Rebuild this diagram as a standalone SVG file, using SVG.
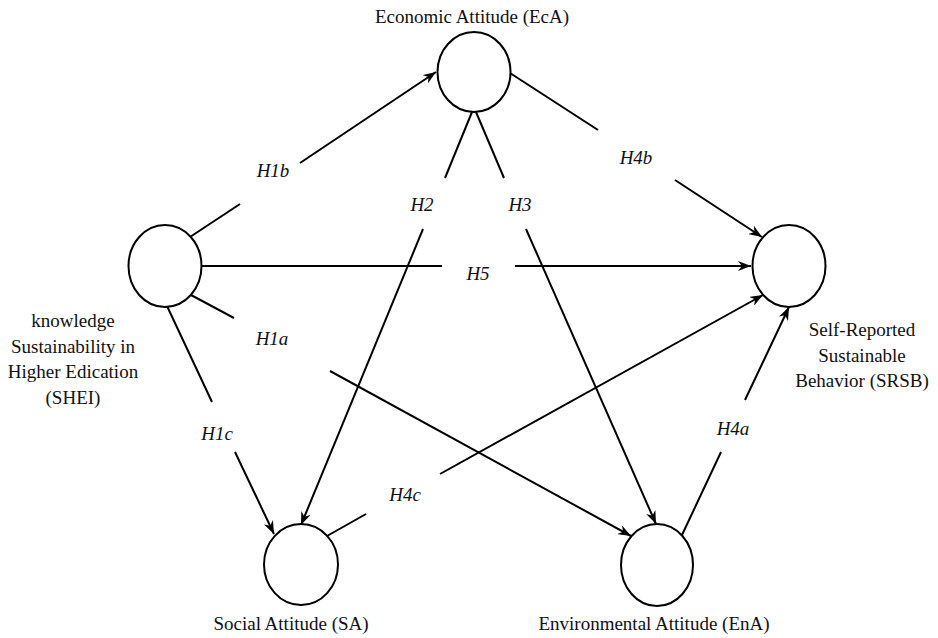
<svg xmlns="http://www.w3.org/2000/svg" width="938" height="638" viewBox="0 0 938 638">
<style>
.node{fill:#fff;stroke:#000;stroke-width:2}
.t{font-family:"Liberation Serif","Times New Roman",serif;font-size:19px;fill:#111;text-anchor:middle}
.h{font-family:"Liberation Serif","Times New Roman",serif;font-size:19px;font-style:italic;fill:#111;text-anchor:middle}
.c line{stroke:#000;stroke-width:2}
</style>
<defs>
<marker id="arr" markerUnits="userSpaceOnUse" markerWidth="14" markerHeight="10" refX="13" refY="5" orient="auto">
<path d="M0,0 L13,5 L0,10 L4,5 z" fill="#000"/>
</marker>
</defs>
<rect width="938" height="638" fill="#fff"/>
<g class="c" id="connectors">
<!-- H1b -->
<line x1="190" y1="237" x2="240" y2="204"/>
<line x1="300" y1="163" x2="436" y2="72" marker-end="url(#arr)"/>
<!-- H5 -->
<line x1="202" y1="266" x2="442" y2="266"/>
<line x1="515" y1="266" x2="751" y2="266" marker-end="url(#arr)"/>
<!-- H1a -->
<line x1="191" y1="295" x2="234" y2="318"/>
<line x1="330" y1="371" x2="631" y2="536" marker-end="url(#arr)"/>
<!-- H1c -->
<line x1="167" y1="306" x2="212" y2="402"/>
<line x1="235" y1="452" x2="274" y2="534" marker-end="url(#arr)"/>
<!-- H2 -->
<line x1="472" y1="112" x2="445" y2="178"/>
<line x1="423" y1="229" x2="301" y2="525" marker-end="url(#arr)"/>
<!-- H3 -->
<line x1="476" y1="112" x2="504" y2="178"/>
<line x1="526" y1="229" x2="656" y2="524" marker-end="url(#arr)"/>
<!-- H4b -->
<line x1="510" y1="73" x2="598" y2="130"/>
<line x1="675" y1="180" x2="762" y2="237" marker-end="url(#arr)"/>
<!-- H4c -->
<line x1="327" y1="536" x2="366" y2="514"/>
<line x1="440" y1="474" x2="763" y2="295" marker-end="url(#arr)"/>
<!-- H4a -->
<line x1="682" y1="535" x2="721" y2="452"/>
<line x1="745" y1="400" x2="789" y2="307" marker-end="url(#arr)"/>
<text class="h" x="273" y="177">H1b</text>
<text class="h" x="478" y="280">H5</text>
<text class="h" x="272" y="345">H1a</text>
<text class="h" x="217" y="440">H1c</text>
<text class="h" x="422" y="211">H2</text>
<text class="h" x="520" y="211">H3</text>
<text class="h" x="636" y="164">H4b</text>
<text class="h" x="405" y="501">H4c</text>
<text class="h" x="733" y="435">H4a</text>
</g>
<g id="EcA">
<ellipse class="node" cx="474" cy="72" rx="36.5" ry="40"/>
<text class="t" x="472" y="23">Economic Attitude (EcA)</text>
</g>
<g id="SHEI">
<ellipse class="node" cx="165" cy="266" rx="36.5" ry="41"/>
<text class="t" x="73" y="327">knowledge</text>
<text class="t" x="73" y="353">Sustainability in</text>
<text class="t" x="73" y="378">Higher Edication</text>
<text class="t" x="73" y="404">(SHEI)</text>
</g>
<g id="SRSB">
<ellipse class="node" cx="789" cy="266" rx="36.5" ry="41"/>
<text class="t" x="862" y="336">Self-Reported</text>
<text class="t" x="862" y="362">Sustainable</text>
<text class="t" x="862" y="387">Behavior (SRSB)</text>
</g>
<g id="SA">
<ellipse class="node" cx="301" cy="564.5" rx="37" ry="40.5"/>
<text class="t" x="291" y="630">Social Attitude (SA)</text>
</g>
<g id="EnA">
<ellipse class="node" cx="657" cy="565" rx="36" ry="41"/>
<text class="t" x="654" y="630">Environmental Attitude (EnA)</text>
</g>
</svg>
